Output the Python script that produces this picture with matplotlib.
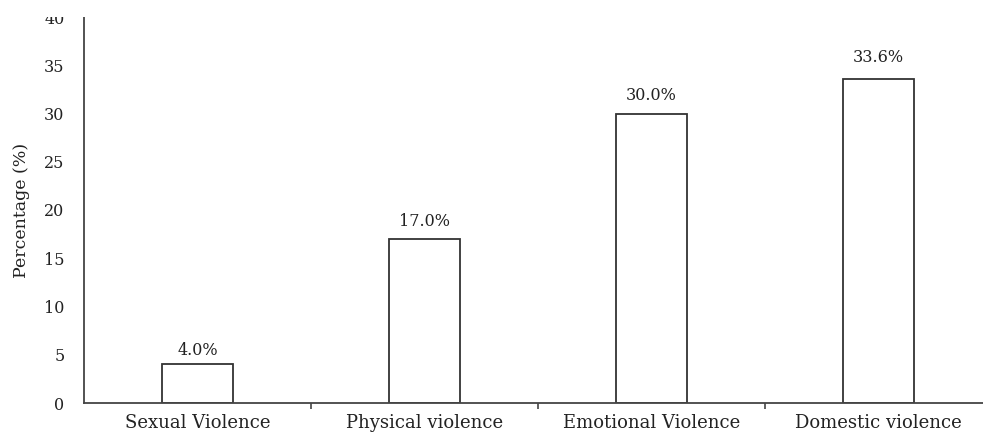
import numpy as np
import matplotlib.pyplot as plt
from matplotlib.patches import Rectangle

categories = ["Sexual Violence", "Physical violence", "Emotional Violence", "Domestic violence"]
values = [4.0, 17.0, 30.0, 33.6]
labels = ["4.0%", "17.0%", "30.0%", "33.6%"]

plt.rcParams['font.family'] = ['DejaVu Serif']

W, H = 983, 432
fig = plt.figure(figsize=(W/100, H/100), dpi=100)
ax = fig.add_axes([84/W, (H-403)/H, 908/W, 386/H])

x = np.arange(len(categories))
ax.bar(x, values, width=0.31, color='white', edgecolor='#333333', linewidth=1.3)

offs = [0.6, 0.9, 1.0, 1.3]
for xi, v, lab, o in zip(x, values, labels, offs):
    ax.text(xi, v + o, lab, ha='center', va='bottom', fontsize=11.5, color='#222222')

ax.set_xlim(-0.5, 3.5)
ax.set_ylim(0, 40)
ax.set_yticks(np.arange(0, 41, 5))
ax.tick_params(axis='y', length=0, labelsize=11.5, pad=14, colors='#222222')

ax.set_xticks(x)
ax.set_xticklabels(categories, fontsize=13, color='#222222')
ax.tick_params(axis='x', length=0, pad=8)
ax.set_xticks(np.arange(0.5, 3.5, 1), minor=True)
ax.tick_params(axis='x', which='minor', length=4, width=1.2, color='#444444', direction='out')

for s in ['top', 'right']:
    ax.spines[s].set_visible(False)
for s in ['left', 'bottom']:
    ax.spines[s].set_color('#444444')
    ax.spines[s].set_linewidth(1.3)

ax.set_ylabel("Percentage (%)", fontsize=12.5, color='#222222', labelpad=10)

# the source image is clipped along its top edge
fig.add_artist(Rectangle((0, 1 - 17/H), 1, 17/H, transform=fig.transFigure,
                         facecolor='white', edgecolor='none', zorder=10))

fig.savefig("out.png", dpi=100)
